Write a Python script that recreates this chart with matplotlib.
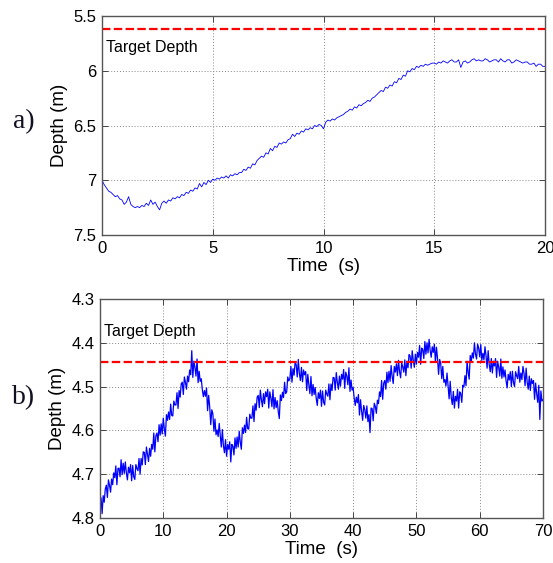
import numpy as np
import matplotlib
matplotlib.use("Agg")
import matplotlib.pyplot as plt

plt.rcParams['font.family'] = ['Liberation Sans', 'DejaVu Sans']

# ---------------- data: panel a (0.1 s steps, 0..20 s) ----------------
a_depth = [
    7.00, 7.04, 7.07, 7.10, 7.11, 7.13, 7.15, 7.14, 7.17, 7.18,
    7.22, 7.20, 7.15, 7.22, 7.24, 7.25, 7.24, 7.25, 7.23, 7.24,
    7.21, 7.23, 7.18, 7.22, 7.20, 7.24, 7.27, 7.21, 7.19, 7.21,
    7.18, 7.19, 7.16, 7.17, 7.15, 7.16, 7.13, 7.14, 7.11, 7.12,
    7.09, 7.10, 7.07, 7.08, 7.03, 7.06, 7.02, 7.04, 7.00, 7.02,
    6.99, 7.00, 6.98, 6.99, 6.97, 6.98, 6.96, 6.98, 6.95, 6.96,
    6.94, 6.95, 6.93, 6.93, 6.90, 6.91, 6.88, 6.89, 6.85, 6.86,
    6.82, 6.80, 6.78, 6.79, 6.75, 6.76, 6.71, 6.73, 6.69, 6.70,
    6.66, 6.67, 6.65, 6.66, 6.63, 6.62, 6.58, 6.60, 6.57, 6.58,
    6.55, 6.56, 6.53, 6.54, 6.52, 6.53, 6.50, 6.51, 6.49, 6.50,
    6.53, 6.47, 6.45, 6.46, 6.44, 6.45, 6.43, 6.42, 6.41, 6.40,
    6.38, 6.37, 6.35, 6.36, 6.33, 6.34, 6.31, 6.32, 6.30, 6.29,
    6.27, 6.28, 6.25, 6.24, 6.22, 6.20, 6.18, 6.19, 6.15, 6.16,
    6.13, 6.14, 6.10, 6.11, 6.07, 6.08, 6.04, 6.05, 6.00, 6.01,
    5.98, 5.99, 5.96, 5.97, 5.95, 5.96, 5.94, 5.95, 5.94, 5.93,
    5.93, 5.94, 5.92, 5.93, 5.91, 5.92, 5.93, 5.91, 5.90, 5.92,
    5.92, 5.90, 5.97, 5.92, 5.91, 5.93, 5.92, 5.90, 5.89, 5.91,
    5.90, 5.91, 5.91, 5.89, 5.90, 5.92, 5.91, 5.90, 5.90, 5.92,
    5.89, 5.91, 5.92, 5.90, 5.90, 5.93, 5.92, 5.90, 5.91, 5.92,
    5.93, 5.92, 5.92, 5.94, 5.94, 5.93, 5.96, 5.94, 5.94, 5.96,
    5.96,
]
a_target = 5.62

# ---------------- data: panel b (1/6 s steps, 0..70 s) ----------------
b_depth = [
    4.782, 4.754, 4.790, 4.749, 4.764, 4.734,
    4.725, 4.753, 4.713, 4.725, 4.741, 4.711,
    4.724, 4.697, 4.708, 4.681, 4.724, 4.687,
    4.686, 4.706, 4.667, 4.701, 4.675, 4.698,
    4.672, 4.697, 4.713, 4.684, 4.697, 4.678,
    4.715, 4.680, 4.706, 4.712, 4.678, 4.687,
    4.692, 4.664, 4.700, 4.664, 4.679, 4.649,
    4.650, 4.678, 4.638, 4.655, 4.671, 4.641,
    4.659, 4.632, 4.643, 4.606, 4.649, 4.612,
    4.606, 4.626, 4.587, 4.611, 4.585, 4.608,
    4.572, 4.597, 4.613, 4.564, 4.577, 4.558,
    4.575, 4.540, 4.566, 4.567, 4.533, 4.542,
    4.542, 4.514, 4.550, 4.509, 4.524, 4.494,
    4.490, 4.518, 4.478, 4.490, 4.506, 4.476,
    4.489, 4.462, 4.473, 4.418, 4.479, 4.442,
    4.456, 4.476, 4.437, 4.491, 4.465, 4.488,
    4.482, 4.507, 4.523, 4.509, 4.522, 4.503,
    4.555, 4.520, 4.546, 4.587, 4.553, 4.562,
    4.602, 4.574, 4.610, 4.599, 4.614, 4.584,
    4.610, 4.638, 4.598, 4.635, 4.651, 4.621,
    4.659, 4.632, 4.643, 4.626, 4.672, 4.632,
    4.636, 4.656, 4.617, 4.641, 4.615, 4.638,
    4.602, 4.627, 4.643, 4.594, 4.607, 4.588,
    4.605, 4.570, 4.596, 4.597, 4.563, 4.572,
    4.572, 4.544, 4.580, 4.539, 4.554, 4.524,
    4.520, 4.548, 4.508, 4.530, 4.546, 4.516,
    4.539, 4.512, 4.523, 4.506, 4.549, 4.512,
    4.526, 4.546, 4.507, 4.551, 4.525, 4.548,
    4.532, 4.557, 4.573, 4.519, 4.532, 4.513,
    4.525, 4.490, 4.516, 4.512, 4.478, 4.487,
    4.482, 4.454, 4.490, 4.459, 4.474, 4.444,
    4.450, 4.478, 4.438, 4.470, 4.486, 4.456,
    4.489, 4.462, 4.473, 4.466, 4.509, 4.472,
    4.496, 4.516, 4.477, 4.521, 4.495, 4.518,
    4.502, 4.527, 4.543, 4.514, 4.527, 4.508,
    4.545, 4.510, 4.536, 4.542, 4.508, 4.517,
    4.522, 4.494, 4.530, 4.494, 4.509, 4.479,
    4.480, 4.508, 4.468, 4.490, 4.506, 4.476,
    4.499, 4.472, 4.483, 4.461, 4.504, 4.467,
    4.476, 4.496, 4.457, 4.511, 4.485, 4.508,
    4.502, 4.527, 4.543, 4.524, 4.537, 4.518,
    4.565, 4.530, 4.556, 4.577, 4.543, 4.552,
    4.572, 4.544, 4.580, 4.564, 4.605, 4.549,
    4.550, 4.578, 4.538, 4.545, 4.561, 4.531,
    4.539, 4.512, 4.523, 4.486, 4.529, 4.492,
    4.486, 4.506, 4.467, 4.491, 4.465, 4.488,
    4.452, 4.477, 4.493, 4.454, 4.467, 4.448,
    4.475, 4.440, 4.466, 4.480, 4.446, 4.455,
    4.467, 4.439, 4.475, 4.442, 4.457, 4.427,
    4.430, 4.458, 4.418, 4.440, 4.456, 4.426,
    4.449, 4.422, 4.433, 4.406, 4.449, 4.412,
    4.416, 4.436, 4.397, 4.426, 4.400, 4.423,
    4.392, 4.417, 4.433, 4.409, 4.422, 4.403,
    4.445, 4.410, 4.436, 4.472, 4.438, 4.447,
    4.482, 4.454, 4.490, 4.484, 4.499, 4.469,
    4.500, 4.528, 4.488, 4.525, 4.541, 4.511,
    4.549, 4.522, 4.533, 4.506, 4.549, 4.512,
    4.516, 4.536, 4.497, 4.501, 4.475, 4.498,
    4.442, 4.467, 4.483, 4.429, 4.442, 4.423,
    4.435, 4.400, 4.426, 4.437, 4.403, 4.412,
    4.432, 4.404, 4.440, 4.424, 4.439, 4.409,
    4.430, 4.458, 4.418, 4.450, 4.466, 4.436,
    4.469, 4.442, 4.453, 4.436, 4.479, 4.442,
    4.456, 4.476, 4.437, 4.481, 4.455, 4.478,
    4.462, 4.487, 4.503, 4.472, 4.485, 4.466,
    4.500, 4.465, 4.491, 4.500, 4.466, 4.475,
    4.482, 4.454, 4.490, 4.469, 4.484, 4.454,
    4.470, 4.498, 4.458, 4.490, 4.506, 4.476,
    4.509, 4.482, 4.493, 4.486, 4.529, 4.492,
    4.516, 4.536, 4.497, 4.575, 4.510, 4.533,
    4.530,
]
b_target = 4.443

a_time = np.arange(len(a_depth)) * 0.1
b_time = np.arange(len(b_depth)) / 6.0

a_xticks = [0, 5, 10, 15, 20]
a_yticks = [5.5, 6, 6.5, 7, 7.5]
a_yticklabels = ['5.5', '6', '6.5', '7', '7.5']
b_xticks = [0, 10, 20, 30, 40, 50, 60, 70]
b_yticks = [4.3, 4.4, 4.5, 4.6, 4.7, 4.8]
b_yticklabels = ['4.3', '4.4', '4.5', '4.6', '4.7', '4.8']

W, H = 553, 563
fig = plt.figure(figsize=(W / 100, H / 100), dpi=100)


def px_axes(left, top, right, bottom):
    return fig.add_axes([left / W, 1 - bottom / H, (right - left) / W, (bottom - top) / H])


def style(ax, xlim, ylim, xticks, yticks, yticklabels):
    ax.set_xlim(*xlim)
    ax.set_ylim(*ylim)
    ax.set_xticks(xticks)
    ax.set_xticklabels([str(t) for t in xticks])
    ax.set_yticks(yticks)
    ax.set_yticklabels(yticklabels)
    ax.grid(True, linestyle=(0, (1, 2)), color='#888888', linewidth=0.7)
    ax.tick_params(direction='in', length=4, width=0.7, color='#444444',
                   labelsize=12, pad=4, top=True, right=True)
    for s in ax.spines.values():
        s.set_color('#555555')
        s.set_linewidth(1.0)
    ax.set_axisbelow(True)


# panel a
axa = px_axes(102, 16, 545, 235)
axa.plot(a_time, a_depth, color='#0000ff', linewidth=0.6)
axa.axhline(a_target, color='#ff0000', linewidth=1.6, dashes=(3.8, 1.5))
style(axa, (0, 20), (7.5, 5.5), a_xticks, a_yticks, a_yticklabels)
axa.text(0.2, 5.785, 'Target Depth', fontsize=11.5, va='center', ha='left')
axa.set_xlabel('Time  (s)', fontsize=13.5, labelpad=2)
axa.set_ylabel('Depth (m)', fontsize=13.5, labelpad=4)
fig.text(24 / W, 1 - 122 / H, 'a)', family='Liberation Serif', fontsize=20,
         ha='center', va='center', color='#111122')

# panel b
axb = px_axes(100, 299, 543, 518)
axb.plot(b_time, b_depth, color='#0000ff', linewidth=0.9)
axb.axhline(b_target, color='#ff0000', linewidth=1.6, dashes=(3.8, 1.5))
style(axb, (0, 70), (4.8, 4.3), b_xticks, b_yticks, b_yticklabels)
axb.text(0.7, 4.375, 'Target Depth', fontsize=11.5, va='center', ha='left')
axb.set_xlabel('Time  (s)', fontsize=13.5, labelpad=2)
axb.set_ylabel('Depth (m)', fontsize=13.5, labelpad=4)
fig.text(24 / W, 1 - 398 / H, 'b)', family='Liberation Serif', fontsize=20,
         ha='center', va='center', color='#111122')

fig.savefig('out.png', dpi=100)
